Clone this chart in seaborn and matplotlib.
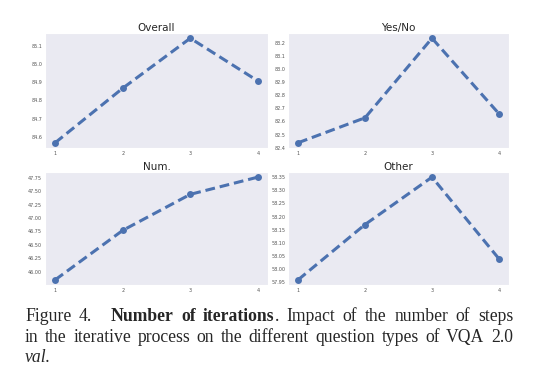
import matplotlib
matplotlib.use('Agg')
import matplotlib.pyplot as plt
import seaborn as sns

# dados
iteracoes = [1, 2, 3, 4]
overall = [84.567, 84.867, 85.142, 84.907]
yes_no = [82.438, 82.628, 83.233, 82.659]
num = [45.85, 46.77, 47.44, 47.76]
other = [57.96, 58.17, 58.35, 58.04]

titulos = ['Overall', 'Yes/No', 'Num.', 'Other']
series = [overall, yes_no, num, other]

sns.set_style('dark')
cor = '#4C72B0'

fig = plt.figure(figsize=(5.39, 3.81), dpi=100)
W, H = 539, 381
caixas = [(45, 33, 268, 148), (288, 33, 509, 148),
          (45, 172, 268, 285), (288, 172, 509, 285)]

for (x0, y0, x1, y1), titulo, vals in zip(caixas, titulos, series):
    ax = fig.add_axes([x0 / W, 1 - y1 / H, (x1 - x0) / W, (y1 - y0) / H])
    sns.lineplot(x=iteracoes, y=vals, ax=ax, color=cor, marker='o',
                 linestyle='--', linewidth=2.2, markersize=5,
                 markeredgewidth=0, dashes=False)
    ax.lines[0].set_linestyle((0, (3.2, 1.6)))
    ax.set_title(titulo, fontsize=7.5, pad=1.5, color='#262626')
    ax.set_xticks(iteracoes)
    ax.tick_params(labelsize=3.5, pad=2, colors='#555555', length=0)
    ax.margins(x=0.05, y=0.05)

# legenda da figura (texto justificado)
linhas = [
    [('Figure', 'normal', True), ('4.', 'normal', True),
     ('\u2009', 'normal', True),
     ('Number', 'bold', True), ('of', 'bold', True),
     ('iterations', 'bold', True), ('.', 'normal', False),
     ('Impact', 'normal', True), ('of', 'normal', True),
     ('the', 'normal', True), ('number', 'normal', True),
     ('of', 'normal', True), ('steps', 'normal', True)],
    [(w, 'normal', True) for w in
     'in the iterative process on the different question types of VQA 2.0'.split()],
]
fs = 12.7
xesq, xdir = 25, 513
bases = [321, 342]
r = fig.canvas.get_renderer()
for tokens, base in zip(linhas, bases):
    textos = []
    for palavra, peso, _ in tokens:
        t = fig.text(0, 1 - base / H, palavra, fontsize=fs, family='Liberation Serif',
                     weight=peso, va='baseline', ha='left')
        textos.append(t)
    larg = [t.get_window_extent(r).width for t in textos]
    ngaps = sum(1 for tk in tokens[1:] if tk[2])
    gap = ((xdir - xesq) - sum(larg)) / ngaps
    x = xesq
    for i, (t, tk) in enumerate(zip(textos, tokens)):
        if i > 0 and tk[2]:
            x += gap
        t.set_x(x / W)
        x += larg[i]

fig.text(xesq / W, 1 - 362 / H, 'val.', fontsize=fs, family='Liberation Serif',
         style='italic', va='baseline', ha='left')

fig.savefig('out.png', dpi=100)
